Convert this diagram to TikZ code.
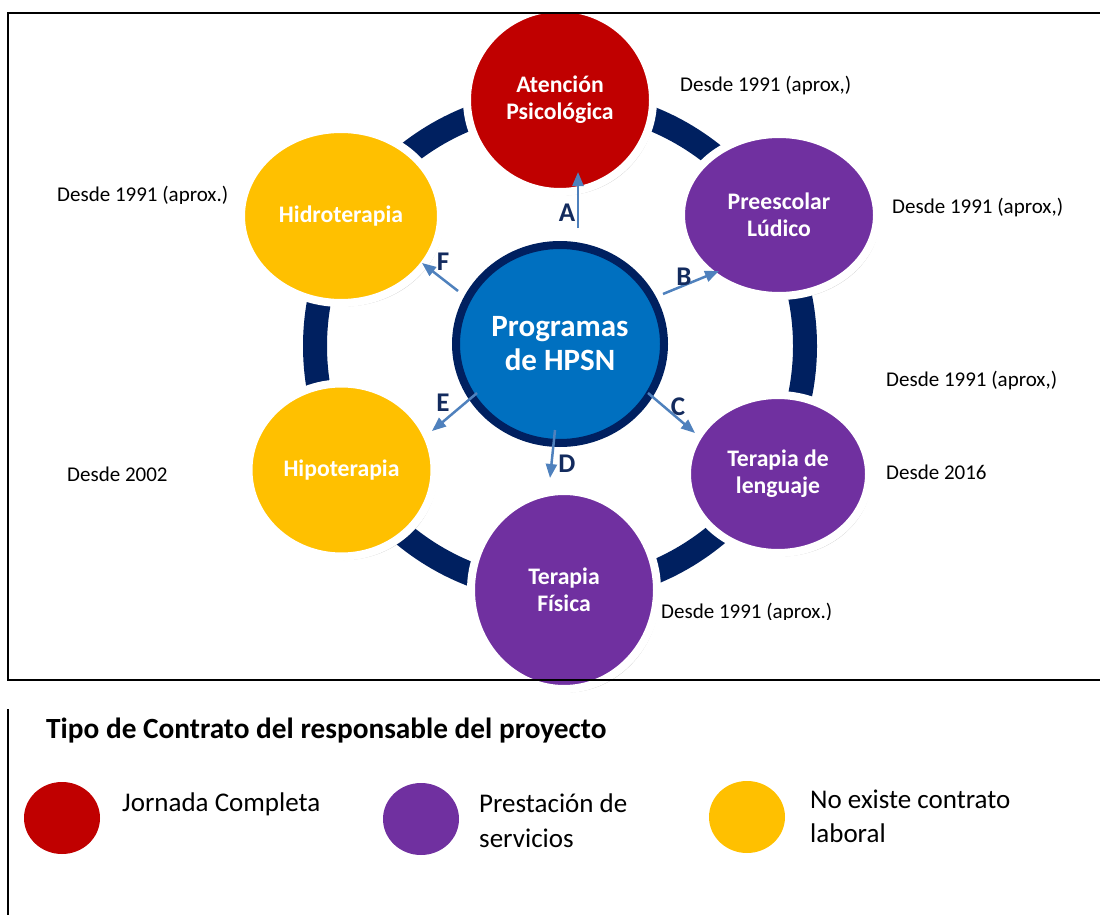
\documentclass[tikz,border=0pt]{standalone}
\usepackage{fontspec}
\setmainfont{Carlito}
\usetikzlibrary{shapes.geometric,arrows.meta,shadows}
\definecolor{cred}{HTML}{C00000}
\definecolor{cpurple}{HTML}{7030A0}
\definecolor{cyellow}{HTML}{FFC000}
\definecolor{cblue}{HTML}{0070C0}
\definecolor{cnavy}{HTML}{002060}
\definecolor{carrow}{HTML}{4F81BD}
\definecolor{clabel}{HTML}{132B5E}
\begin{document}
\begin{tikzpicture}[x=1pt,y=-1pt,
  prog/.style={ellipse, draw=white, line width=8pt, inner sep=0pt, text=white,
    font=\bfseries\fontsize{23.7}{27}\selectfont, align=center,
    drop shadow={shadow xshift=2.5pt, shadow yshift=-3.5pt, opacity=0.3, fill=black!70}},
  hub/.style={ellipse, draw=cnavy, fill=cblue, line width=8pt, inner sep=0pt, text=white,
    font=\bfseries\fontsize{31}{34}\selectfont, align=center},
  arr/.style={draw=carrow, line width=2.5pt, -{Triangle[length=14pt,width=11pt]}},
  letter/.style={text=clabel, font=\bfseries\fontsize{27}{30}\selectfont, inner sep=0pt},
  since/.style={anchor=west, inner sep=0pt, font=\fontsize{21}{25}\selectfont},
  legtext/.style={anchor=base west, inner sep=0pt, font=\fontsize{27}{32}\selectfont},
  legdot/.style={ellipse, inner sep=0pt, minimum width=76pt, minimum height=72pt},
  frame/.style={draw=black, line width=2pt}]
\useasboundingbox (0,0) rectangle (1100,915);

% ring
\draw[cnavy, line width=24pt] (560,346) circle[radius=245pt];

% outer programmes
\node[prog, fill=cred, minimum width=186pt, minimum height=184pt] (aten) at (560,100) {Atención\\Psicológica};
\node[prog, fill=cpurple, minimum width=196pt, minimum height=162pt] (pree) at (779,215) {Preescolar\\Lúdico};
\node[prog, fill=cpurple, minimum width=182pt, minimum height=158pt] (leng) at (778,474) {Terapia de\\lenguaje};
\node[prog, fill=cpurple, minimum width=186pt, minimum height=198pt] (fisi) at (564,590) {Terapia\\Física};
\node[prog, fill=cyellow, minimum width=186pt, minimum height=173pt] (hipo) at (341.5,470) {Hipoterapia};
\node[prog, fill=cyellow, minimum width=200pt, minimum height=174pt] (hidr) at (341,216) {Hidroterapia};

% hub
\node[hub, minimum width=208pt, minimum height=198pt] (hub) at (560,344) {Programas\\de HPSN};

% arrow endpoints
\coordinate (a0) at (578,228); \coordinate (a1) at (578,172);
\coordinate (b0) at (663,294); \coordinate (b1) at (719,271);
\coordinate (c0) at (648,393); \coordinate (c1) at (695,433);
\coordinate (d0) at (555,430); \coordinate (d1) at (550,478);
\coordinate (e0) at (477,393); \coordinate (e1) at (432,431);
\coordinate (f0) at (458,291); \coordinate (f1) at (422,263);
\draw[arr] (a0) -- (a1);
\draw[arr] (b0) -- (b1);
\draw[arr] (c0) -- (c1);
\draw[arr] (d0) -- (d1);
\draw[arr] (e0) -- (e1);
\draw[arr] (f0) -- (f1);

\node[letter] (la) at (567,213) {A};
\node[letter] (lb) at (684,277) {B};
\node[letter] (lc) at (678,407) {C};
\node[letter] (ld) at (567,464) {D};
\node[letter] (le) at (443,403) {E};
\node[letter] (lf) at (443,262) {F};

% dates
\node[since] (s1) at (680,86) {Desde 1991 (aprox,)};
\begin{scope}
  \clip (0,0) rectangle (460,203);
  \node[since] (s2) at (57,196) {Desde 1991 (aprox.)};
\end{scope}
\node[since] (s3) at (892,208) {Desde 1991 (aprox,)};
\node[since] (s4) at (886,381) {Desde 1991 (aprox,)};
\node[since] (s5) at (886,472) {Desde 2016};
\node[since] (s6) at (67,474) {Desde 2002};
\begin{scope}
  \clip (600,560) rectangle (900,619);
  \node[since] (s7) at (661,613) {Desde 1991 (aprox.)};
\end{scope}

% frames
\draw[frame] (1100,13) -- (8,13) -- (8,680) -- (1100,680);
\draw[frame] (8,709) -- (8,915);

% legend
\node[anchor=base west, inner sep=0pt, font=\bfseries\fontsize{29.3}{32}\selectfont] (title) at (46,738) {Tipo de Contrato del responsable del proyecto};
\node[legdot, fill=cred] (k1) at (62,818) {};
\node[legdot, fill=cpurple] (k2) at (421,819) {};
\node[legdot, fill=cyellow] (k3) at (747,817) {};
\node[legtext] (t1) at (122,811) {Jornada Completa};
\node[legtext] (t2a) at (479,812) {Prestación de};
\node[legtext] (t2b) at (479,847) {servicios};
\node[legtext] (t3a) at (810,808) {No existe contrato};
\node[legtext] (t3b) at (810,842) {laboral};
\end{tikzpicture}
\end{document}
